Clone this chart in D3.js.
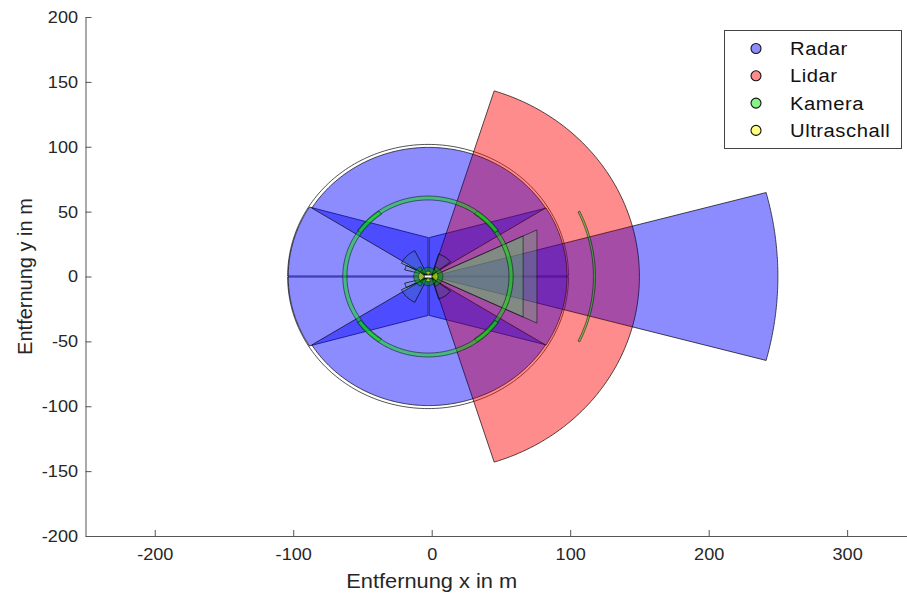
<!DOCTYPE html>
<html><head><meta charset="utf-8">
<script src="https://cdn.jsdelivr.net/npm/d3@7"></script>
<style>
html,body{margin:0;padding:0;background:#fff;}
svg{display:block;font-family:"Liberation Sans",Arial,Helvetica,sans-serif;}
</style></head><body>
<svg id="chart" width="907" height="594"></svg>
<script>
// Sensor coverage around the vehicle (front bumper at the origin), metres / degrees.
const legendLabels = ["Radar", "Lidar", "Kamera", "Ultraschall"];
const xTicks = [-200, -100, 0, 100, 200, 300];
const yTicks = [-200, -150, -100, -50, 0, 50, 100, 150, 200];

// x0,y0 mounting point, dir heading, half = half opening angle, range,
// width = half width of a flat near edge (0 = pointed sector)
const radarSectors = [
  {x0: 0,    y0: 0, dir: 0,   half: 15, range: 250,   width: 0},
  {x0: -1.8, y0: 0, dir: 0,   half: 32, range: 99.5,  width: 30},
  {x0: -2.6, y0: 0, dir: 180, half: 32, range: 101,   width: 30},
  {x0: -2.2, y0: 0, dir: 90,  half: 58, range: 99.5,  width: 0},
  {x0: -2.2, y0: 0, dir: -90, half: 58, range: 99.5,  width: 0}
];
// 360° corner radar envelope, outline only
const radarEnvelope = [
  {x0: -2.6, y0: 0.4,  dir: 90,  half: 90, range: 101.4, width: 0},
  {x0: -2.6, y0: -0.4, dir: -90, half: 90, range: 101.4, width: 0}
];
const lidarSectors = [
  {x0: 0, y0: 0, dir: 0, half: 72.5, range: 150, width: 0}
];
// surround view cameras and the far front camera: ring segments rIn..rOut
const cameraRings = [
  {x0: -2.7, y0: 0, dir: 0,   half: 55, rIn: 58.5, rOut: 61.5},
  {x0: -2.7, y0: 0, dir: 90,  half: 55, rIn: 59,   rOut: 62},
  {x0: -2.7, y0: 0, dir: 180, half: 55, rIn: 58.5, rOut: 61.5},
  {x0: -2.7, y0: 0, dir: -90, half: 55, rIn: 59,   rOut: 62},
  {x0: 0,    y0: 0, dir: 0,   half: 25.2, rIn: 116.8, rOut: 118.2}
];
// front cameras drawn as flat-ended cones (range along heading)
const cameraCones = [
  {x0: 0, y0: 0, dir: 0, half: 25.3, range: 76},
  {x0: 0, y0: 0, dir: 0, half: 25.3, range: 66}
];
// short range side cameras
const cameraSide = [
  {x0: -3, y0: 1,  dir: 135,  half: 19, range: 21, width: 0},
  {x0: -3, y0: -1, dir: -135, half: 19, range: 21, width: 0},
  {x0: 0,  y0: 1,  dir: 55,   half: 18, range: 17, width: 0},
  {x0: 0,  y0: -1, dir: -55,  half: 18, range: 17, width: 0},
  {x0: -3, y0: 1,  dir: 160,  half: 6,  range: 17, width: 0},
  {x0: -3, y0: -1, dir: -160, half: 6,  range: 17, width: 0}
];
// near field cameras around the car body
const cameraNear = [
  {x0: 0,    y0: 0,  dir: 0,   half: 70, range: 8,  width: 0},
  {x0: -5,   y0: 0,  dir: 180, half: 70, range: 8,  width: 0},
  {x0: -2.5, y0: 1,  dir: 90,  half: 70, range: 6,  width: 0},
  {x0: -2.5, y0: -1, dir: -90, half: 70, range: 6,  width: 0}
];
const ultrasonicSectors = [
  {x0: 0,    y0: 0,  dir: 0,   half: 45, range: 4.5, width: 0},
  {x0: -5,   y0: 0,  dir: 180, half: 45, range: 4.5, width: 0},
  {x0: -2.5, y0: 1,  dir: 90,  half: 40, range: 3,   width: 0},
  {x0: -2.5, y0: -1, dir: -90, half: 40, range: 3,   width: 0}
];
const vehicle = {x: -5, y: -1, len: 5, wid: 2};

const colors = {
  Radar: "rgba(0,0,255,0.45)",
  Lidar: "rgba(255,0,0,0.45)",
  Kamera: "rgba(0,230,0,0.48)",
  Ultraschall: "rgba(255,255,0,0.5)"
};

const svg = d3.select("#chart");
const x = d3.scaleLinear().domain([-250, 350]).range([85.5, 85.5 + 600 * 1.3848]);
const y = d3.scaleLinear().domain([-200, 200]).range([536, 17]);
const rad = d => d * Math.PI / 180;
const line = d3.line().x(p => x(p[0])).y(p => y(p[1]));
const stretch = "scale(1.065,1)";

function arcPts(cx, cy, r, a0, a1, n) {
  const pts = [];
  for (let i = 0; i <= n; i++) {
    const a = rad(a0 + (a1 - a0) * i / n);
    pts.push([cx + r * Math.cos(a), cy + r * Math.sin(a)]);
  }
  return pts;
}
function sectorPts(s) {
  const p = rad(s.dir + 90);
  const start = [s.x0 + s.width * Math.cos(p), s.y0 + s.width * Math.sin(p)];
  const end = [s.x0 - s.width * Math.cos(p), s.y0 - s.width * Math.sin(p)];
  return [start, ...arcPts(s.x0, s.y0, s.range, s.dir + s.half, s.dir - s.half, 120), end];
}
function ringPts(s) {
  return [...arcPts(s.x0, s.y0, s.rOut, s.dir + s.half, s.dir - s.half, 120),
          ...arcPts(s.x0, s.y0, s.rIn, s.dir - s.half, s.dir + s.half, 120)];
}
function conePts(s) {
  const d = rad(s.dir), h = s.range * Math.tan(rad(s.half));
  const fx = s.x0 + s.range * Math.cos(d), fy = s.y0 + s.range * Math.sin(d);
  return [[s.x0, s.y0],
          [fx - h * Math.sin(d), fy + h * Math.cos(d)],
          [fx + h * Math.sin(d), fy - h * Math.cos(d)]];
}

function drawShapes(g, cls, data, ptsFn, fill, sw) {
  g.selectAll("path." + cls).data(data).join("path")
    .attr("class", cls)
    .attr("d", d => line(ptsFn(d)) + "Z")
    .attr("fill", fill)
    .attr("stroke", "#000")
    .attr("stroke-opacity", 0.85)
    .attr("stroke-width", sw)
    .attr("stroke-linejoin", "round");
}
function drawCoverage(g, lidarFirst) {
  drawShapes(g, "radarEnv", radarEnvelope, sectorPts, "none", 0.8);
  if (lidarFirst) drawShapes(g, "lidar", lidarSectors, sectorPts, colors.Lidar, 0.8);
  drawShapes(g, "radar", radarSectors, sectorPts, colors.Radar, 0.8);
  if (!lidarFirst) drawShapes(g, "lidar", lidarSectors, sectorPts, colors.Lidar, 0.8);
  drawShapes(g, "camCone", cameraCones, conePts, "rgba(100,200,100,0.3)", 0.6);
  drawShapes(g, "camRing", cameraRings, ringPts, colors.Kamera, 0.6);
  drawShapes(g, "camSide", cameraSide, sectorPts, "rgba(0,200,0,0.1)", 0.8);
  drawShapes(g, "camNear", cameraNear, sectorPts, "rgba(0,150,0,0.55)", 0.5);
  drawShapes(g, "us", ultrasonicSectors, sectorPts, colors.Ultraschall, 0.5);
  g.append("rect")
    .attr("x", x(vehicle.x)).attr("y", y(vehicle.y + vehicle.wid))
    .attr("width", x(vehicle.x + vehicle.len) - x(vehicle.x))
    .attr("height", y(vehicle.y) - y(vehicle.y + vehicle.wid))
    .attr("fill", "#fff").attr("stroke", "#555").attr("stroke-width", 0.5);
}
// Overlaps of radar and lidar are blended order-independently:
// both stacking orders are rendered and averaged.
drawCoverage(svg.append("g"), false);
const second = svg.append("g").attr("opacity", 0.5);
second.append("rect").attr("x", x(-250)).attr("y", y(200))
  .attr("width", x(350) - x(-250)).attr("height", y(-200) - y(200)).attr("fill", "#fff");
drawCoverage(second, true);

// axes
const axisColor = "#262626";
const fmt = d => (d < 0 ? "-" + Math.abs(d) : String(d));
const gx = svg.append("g").attr("transform", `translate(0,${y(-200)})`)
  .call(d3.axisBottom(x).tickValues(xTicks).tickFormat(fmt)
    .tickSizeInner(-6).tickSizeOuter(0).tickPadding(12));
const gy = svg.append("g").attr("transform", `translate(${x(-250)},0)`)
  .call(d3.axisLeft(y).tickValues(yTicks).tickFormat(fmt)
    .tickSizeInner(-6).tickSizeOuter(0).tickPadding(7));
[gx, gy].forEach(g => {
  g.select(".domain").attr("stroke", "#555").attr("stroke-width", 1);
  g.selectAll(".tick line").attr("stroke", "#555");
  g.selectAll(".tick text").attr("fill", axisColor).attr("font-size", 17)
    .attr("font-family", "Liberation Sans, Arial, sans-serif")
    .attr("transform", stretch);
});

svg.append("g").attr("transform", `translate(${x(0)},588) ${stretch}`)
  .append("text").attr("text-anchor", "middle")
  .attr("font-size", 20.5).attr("fill", axisColor).text("Entfernung x in m");
svg.append("text").attr("transform", `translate(32,${y(0)}) rotate(-90)`)
  .attr("text-anchor", "middle").attr("font-size", 20).attr("fill", axisColor)
  .text("Entfernung y in m");

// legend
const lg = svg.append("g");
lg.append("rect").attr("x", 724.5).attr("y", 30.5).attr("width", 177).attr("height", 118)
  .attr("fill", "#fff").attr("stroke", "#444").attr("stroke-width", 1);
const rows = lg.selectAll("g.item").data(legendLabels).join("g")
  .attr("class", "item")
  .attr("transform", (d, i) => `translate(0,${48.5 + i * 27.3})`);
rows.append("circle").attr("cx", 756).attr("cy", 0).attr("r", 5)
  .attr("fill", d => colors[d]).attr("stroke", "#111").attr("stroke-width", 1.1);
rows.append("g").attr("transform", `translate(790,6.5) ${stretch}`)
  .append("text").attr("font-size", 19).attr("letter-spacing", 0.5)
  .attr("fill", "#111").text(d => d);
</script>
</body></html>
